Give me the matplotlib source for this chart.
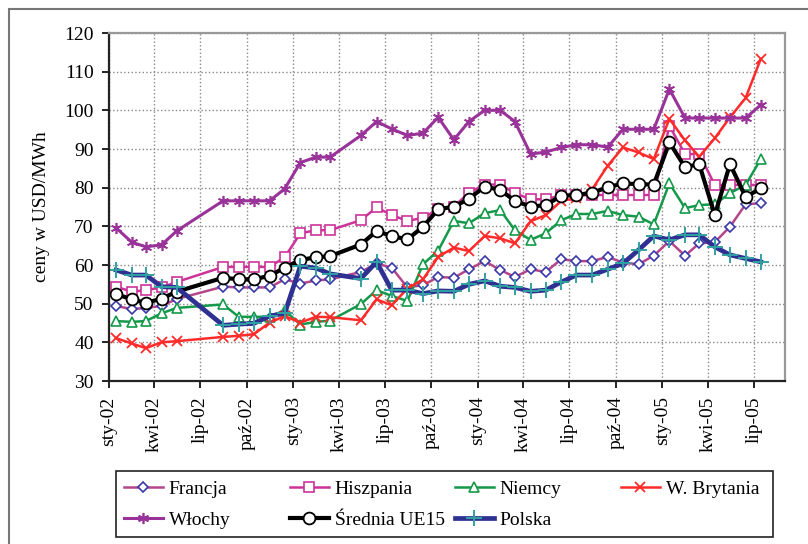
import matplotlib
matplotlib.use('Agg')
import matplotlib.pyplot as plt
import matplotlib.patches as mpatches
from datetime import datetime

plt.rcParams['font.family'] = 'Liberation Serif'
plt.rcParams['font.size'] = 14

# miesiące z danymi (brak: cze-02, lip-02, kwi-03)
miesiace = ['2002-01', '2002-02', '2002-03', '2002-04', '2002-05',
            '2002-08', '2002-09', '2002-10', '2002-11', '2002-12',
            '2003-01', '2003-02', '2003-03',
            '2003-05', '2003-06', '2003-07', '2003-08', '2003-09', '2003-10', '2003-11', '2003-12',
            '2004-01', '2004-02', '2004-03', '2004-04', '2004-05', '2004-06',
            '2004-07', '2004-08', '2004-09', '2004-10', '2004-11', '2004-12',
            '2005-01', '2005-02', '2005-03', '2005-04', '2005-05', '2005-06', '2005-07']

francja = [49.4, 48.6, 48.9, 49.4, 51.2,
           54.4, 54.2, 54.2, 54.2, 56.3,
           55.2, 56.0, 56.3,
           58.2, 60.4, 59.3, 54.2, 54.8, 56.9, 56.7, 58.9,
           61.0, 58.7, 56.9, 58.9, 58.2, 61.5,
           61.0, 61.0, 62.1, 60.6, 60.2, 62.4,
           66.2, 62.4, 65.6, 65.9, 69.9, 75.7, 76.0]

hiszpania = [54.4, 53.1, 53.5, 54.2, 55.6,
             59.5, 59.5, 59.5, 59.5, 62.0,
             68.2, 69.0, 69.0,
             71.6, 74.9, 72.9, 71.4, 72.2, 74.4, 75.1, 78.7,
             80.8, 80.8, 78.6, 77.0, 77.0, 78.0,
             78.0, 78.1, 78.1, 78.1, 78.1, 78.1,
             96.0, 88.7, 88.7, 80.7, 80.7, 80.7, 80.7]

niemcy = [45.5, 45.3, 45.5, 47.5, 48.9,
          49.8, 46.6, 46.6, 46.6, 48.3,
          44.6, 45.3, 45.6,
          49.9, 53.5, 52.0, 50.7, 60.2, 63.7, 71.4, 70.8,
          73.4, 74.2, 69.0, 66.5, 68.2, 71.6,
          73.2, 73.2, 74.0, 72.9, 72.5, 70.5,
          81.1, 74.7, 75.5, 75.7, 78.6, 80.7, 87.4]

w_brytania = [41.1, 39.7, 38.5, 40.0, 40.3,
              41.4, 41.7, 42.1, 45.1, 46.8,
              45.1, 46.6, 46.5,
              45.7, 51.1, 49.6, 53.9, 56.3, 62.1, 64.5, 63.6,
              67.5, 66.9, 65.6, 71.3, 72.9, 76.6,
              77.3, 79.6, 85.7, 90.4, 89.1, 87.4,
              97.8, 92.2, 88.0, 92.8, 98.2, 103.2, 113.3]

wlochy = [69.6, 65.9, 64.7, 65.2, 68.8,
          76.6, 76.6, 76.6, 76.6, 79.7,
          86.5, 87.9, 87.9,
          93.5, 97.1, 95.2, 93.5, 94.1, 98.2, 92.4, 97.1,
          100.0, 100.0, 97.1, 88.7, 89.2, 90.4,
          91.1, 91.1, 90.5, 95.1, 95.1, 95.1,
          105.5, 98.0, 98.0, 98.0, 98.0, 98.0, 101.4]

srednia = [52.5, 51.1, 50.2, 51.3, 53.1,
           56.7, 56.3, 56.3, 57.2, 59.3,
           61.3, 62.0, 62.3,
           65.3, 68.8, 67.5, 66.6, 69.9, 74.4, 75.1, 77.1,
           80.3, 79.4, 76.6, 75.1, 75.5, 77.9,
           78.1, 78.7, 80.1, 81.1, 80.9, 80.8,
           91.7, 85.3, 86.1, 72.9, 86.1, 77.6, 79.8]

polska = [58.7, 57.4, 57.4, 54.4, 54.2,
          44.4, 44.7, 44.9, 46.8, 47.5,
          59.7, 59.2, 57.7,
          56.5, 60.8, 53.5, 53.5, 52.6, 53.3, 53.2, 55.0,
          55.9, 54.5, 54.2, 53.2, 53.5, 55.6,
          57.4, 57.4, 58.9, 60.4, 63.9, 67.5,
          66.5, 67.8, 67.8, 64.7, 62.6, 61.7, 60.8]

etykiety_x = ['sty-02', 'kwi-02', 'lip-02', 'paź-02', 'sty-03', 'kwi-03', 'lip-03', 'paź-03',
              'sty-04', 'kwi-04', 'lip-04', 'paź-04', 'sty-05', 'kwi-05', 'lip-05']

daty = [datetime.strptime(m + '-15', '%Y-%m-%d') for m in miesiace]
daty_ticki = [datetime(2002 + i // 4, 1 + 3 * (i % 4), 1) for i in range(len(etykiety_x))]

fig = plt.figure(figsize=(8.08, 5.44), dpi=100)
ax = fig.add_axes([109 / 808, 1 - 381 / 544, 676 / 808, 348 / 544])

serie = [
    ('Francja', francja, dict(color='#B4468A', lw=1.8, marker='D', ms=5.5, mfc='white', mec='#3838A8', mew=1.2)),
    ('Hiszpania', hiszpania, dict(color='#CC3399', lw=1.8, marker='s', ms=6.5, mfc='white', mec='#CC3399', mew=1.2)),
    ('Niemcy', niemcy, dict(color='#14994A', lw=1.8, marker='^', ms=7.5, mfc='white', mec='#14994A', mew=1.2)),
    ('W. Brytania', w_brytania, dict(color='#FF2A2A', lw=1.8, marker='x', ms=7, mec='#FF2A2A', mew=1.3)),
    ('Włochy', wlochy, dict(color='#993399', lw=2.2, marker=(6, 2, 0), ms=8, mec='#993399', mew=1.2)),
    ('Średnia UE15', srednia, dict(color='black', lw=3.0, marker='o', ms=8.5, mfc='white', mec='black', mew=1.3)),
    ('Polska', polska, dict(color='#2E3192', lw=3.4, marker='+', ms=11, mec='#31A2A2', mew=1.4)),
]

linie = []
for nazwa, wartosci, styl in serie:
    l, = ax.plot(daty, wartosci, label=nazwa, **styl)
    linie.append(l)

ax.set_ylim(30, 120)
ax.set_yticks(range(30, 121, 10))
ax.set_xlim(datetime(2002, 1, 1), datetime(2005, 9, 1))
ax.set_xticks(daty_ticki)
ax.set_xticklabels(etykiety_x, rotation=90)
ax.grid(True, linestyle=':', color='#888888', lw=1)
ax.set_axisbelow(True)

for s in ['left', 'bottom']:
    ax.spines[s].set_color('#222222')
    ax.spines[s].set_linewidth(1.6)
for s in ['top', 'right']:
    ax.spines[s].set_color('#999999')
    ax.spines[s].set_linewidth(1.6)
ax.tick_params(axis='both', direction='out', length=5, width=1.4, pad=6, colors='#222222')
ax.tick_params(axis='both', labelcolor='black')

ax.set_ylabel('ceny w USD/MWh')
ax.yaxis.set_label_coords(-0.088, 0.5)

# legenda - cztery kolumny o równej szerokości
kolumny = [[0, 4], [1, 5], [2, 6], [3]]
x_kol = [124, 290, 455, 621]
for kol, x0 in zip(kolumny, x_kol):
    fig.legend([linie[i] for i in kol], [linie[i].get_label() for i in kol],
               loc='upper left', bbox_to_anchor=(x0 / 808, 1 - 480 / 544),
               frameon=False, borderpad=0, borderaxespad=0, handlelength=2.0,
               handletextpad=0.3, labelspacing=0.7, numpoints=1, fontsize=14)

ramka = mpatches.Rectangle((116 / 808, 1 - 537 / 544), 657 / 808, 66 / 544,
                           transform=fig.transFigure, fill=False, ec='#222222', lw=1.2)
fig.add_artist(ramka)

# obramowanie całego wykresu
obw = mpatches.Rectangle((9 / 808, -0.1), 1.2, 1.1 - 9 / 544,
                         transform=fig.transFigure, fill=False, ec='#777777', lw=1.5)
fig.add_artist(obw)

fig.savefig('out.png', dpi=100)
